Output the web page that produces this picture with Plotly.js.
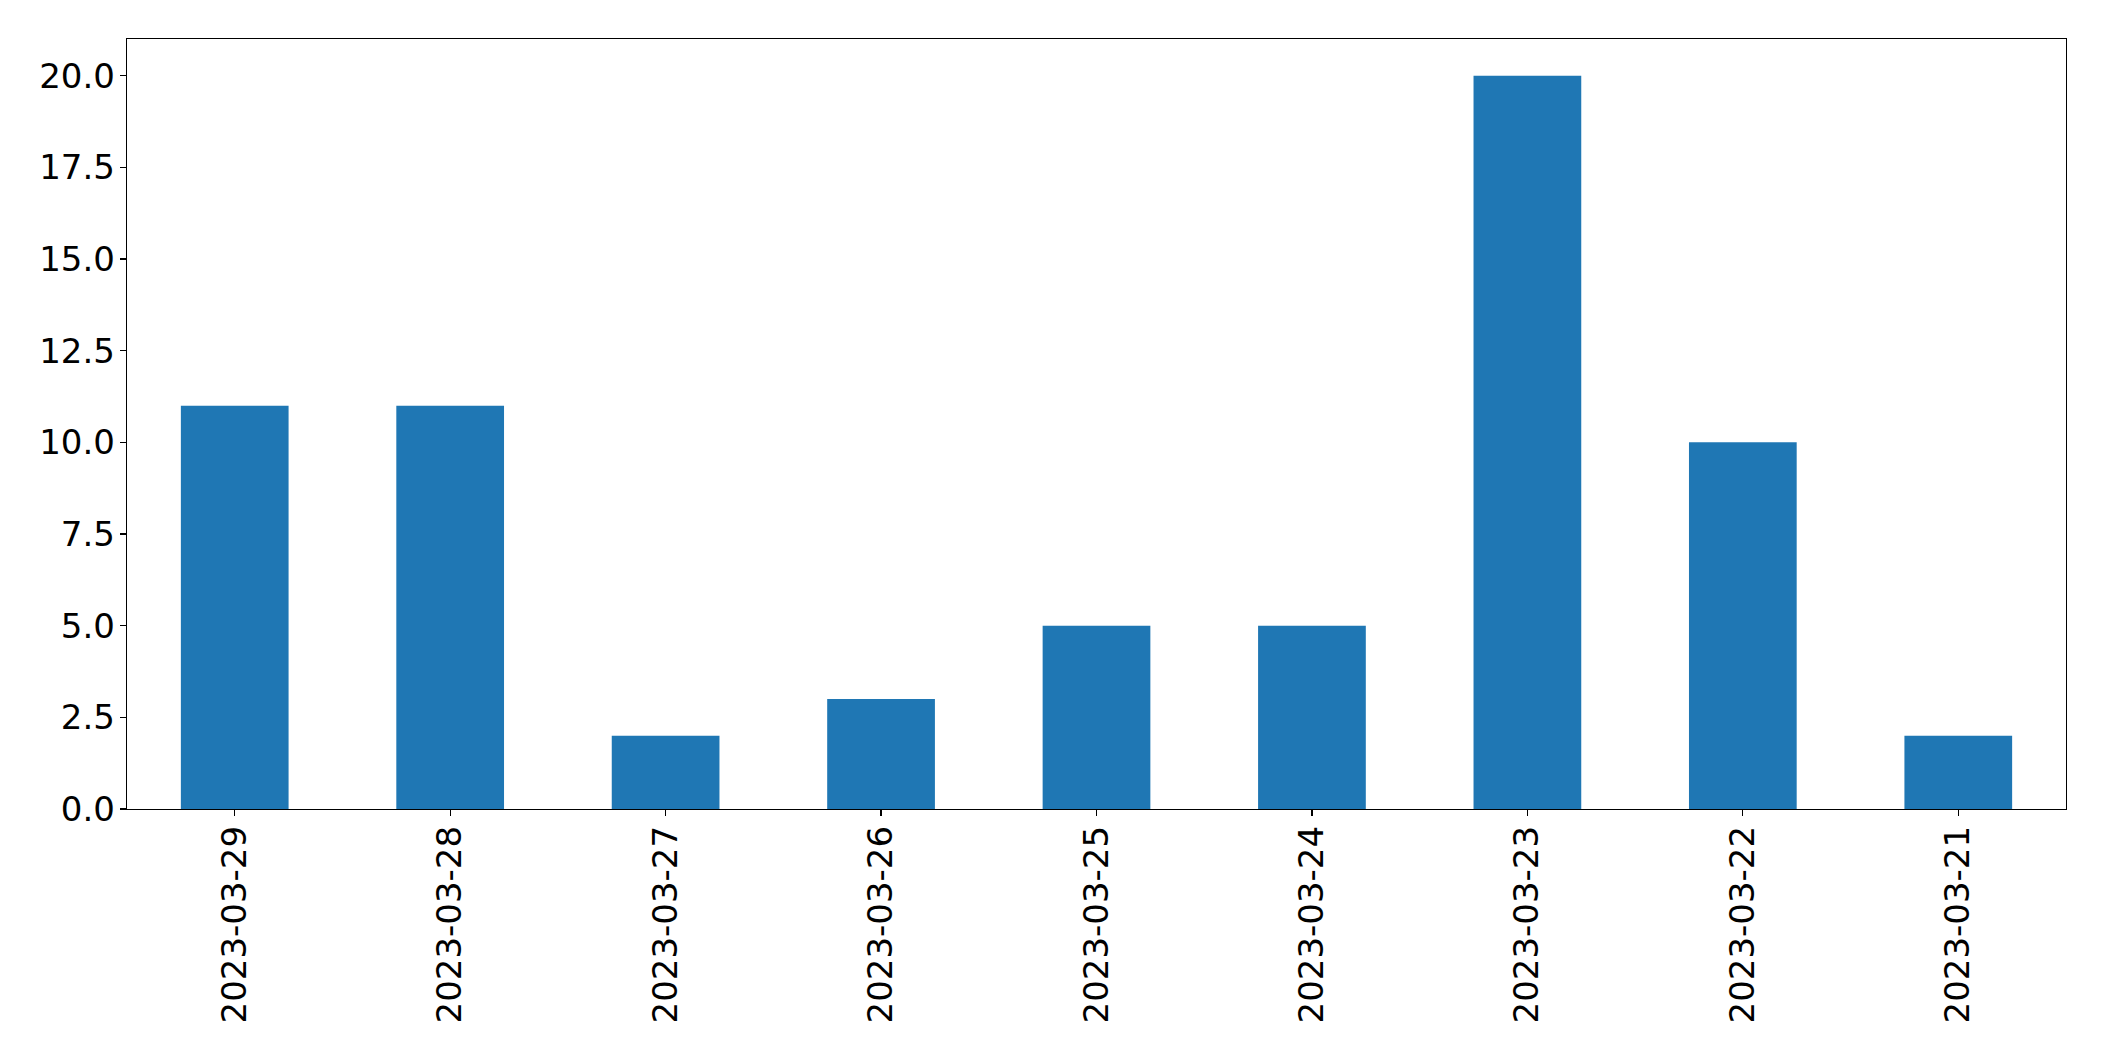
<!DOCTYPE html>
<html>
<head>
<meta charset="utf-8">
<script src="https://cdn.plot.ly/plotly-3.0.1.min.js"></script>
<style>html,body{margin:0;padding:0;background:#fff;}#chart{width:2104px;height:1061px;}</style>
</head>
<body>
<div id="chart"></div>
<script>
const categories = ["2023-03-29","2023-03-28","2023-03-27","2023-03-26","2023-03-25","2023-03-24","2023-03-23","2023-03-22","2023-03-21"];
const values = [11, 11, 2, 3, 5, 5, 20, 10, 2];
const yTicks = [0, 2.5, 5, 7.5, 10, 12.5, 15, 17.5, 20];
const yTickLabels = ["0.0","2.5","5.0","7.5","10.0","12.5","15.0","17.5","20.0"];

const trace = {
  type: 'bar',
  x: categories,
  y: values,
  width: 0.5,
  marker: {color: '#1f77b4', line: {width: 0}},
  hoverinfo: 'x+y'
};

const fontFam = 'DejaVu Sans, sans-serif';
const layout = {
  width: 2104,
  height: 1061,
  margin: {l: 127, r: 38, t: 39, b: 252, pad: 0},
  paper_bgcolor: '#fff',
  plot_bgcolor: '#fff',
  showlegend: false,
  font: {family: fontFam, size: 34, color: '#000'},
  xaxis: {
    type: 'category',
    range: [-0.5, 8.5],
    tickangle: -90,
    ticks: 'outside',
    ticklen: 6,
    tickwidth: 1.3,
    tickcolor: '#000',
    ticklabelstandoff: -4,
    showline: true,
    linecolor: '#000',
    linewidth: 1.3,
    mirror: true,
    showgrid: false,
    zeroline: false,
    tickfont: {family: fontFam, size: 34, color: '#000'}
  },
  yaxis: {
    range: [0, 21],
    tickmode: 'array',
    tickvals: yTicks,
    ticktext: yTickLabels,
    ticks: 'outside',
    ticklen: 6,
    tickwidth: 1.3,
    tickcolor: '#000',
    ticklabelstandoff: -2,
    showline: true,
    linecolor: '#000',
    linewidth: 1.3,
    mirror: true,
    showgrid: false,
    zeroline: false,
    tickfont: {family: fontFam, size: 34, color: '#000'}
  },
  bargap: 0.5
};

Plotly.newPlot('chart', [trace], layout, {displayModeBar: false, staticPlot: true});
</script>
</body>
</html>
